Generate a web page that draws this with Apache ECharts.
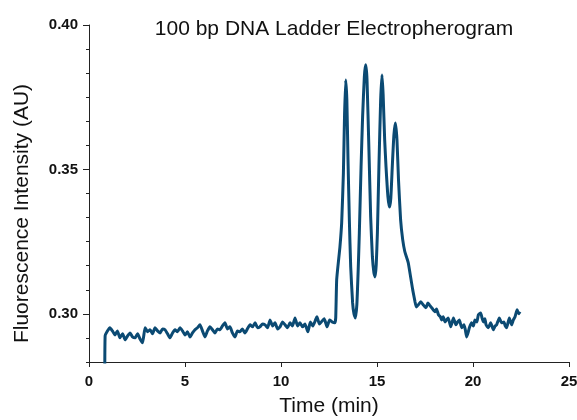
<!DOCTYPE html>
<html lang="en">
<head>
    <meta charset="UTF-8">
    <title>electropherogram</title>
    <script src="https://cdn.jsdelivr.net/npm/echarts@6/dist/echarts.min.js"></script>
    <style>
        html, body { margin: 0; padding: 0; background: #fff; }
    </style>
</head>
<body>
    <div id="main" style="width: 577px; height: 420px"></div>
<script>
    // time (min) and fluorescence (AU)
    const time = [
        0.82, 0.84, 1.09, 1.22, 1.35, 1.48, 1.61, 1.75, 1.88, 2.01, 2.14, 2.27, 2.40, 2.53, 2.66, 2.79, 2.92,
        3.05, 3.18, 3.31, 3.44, 3.57, 3.70, 3.83, 3.96, 4.09, 4.22, 4.35, 4.48, 4.61, 4.74, 4.87, 5.00,
        5.13, 5.26, 5.39, 5.52, 5.65, 5.78, 5.91, 6.04, 6.17, 6.30, 6.43, 6.56, 6.69, 6.82, 6.95, 7.08,
        7.21, 7.34, 7.47, 7.60, 7.73, 7.86, 7.99, 8.12, 8.25, 8.39, 8.52, 8.65, 8.78, 8.90, 9.04, 9.17,
        9.30, 9.43, 9.56, 9.69, 9.82, 9.95, 10.08, 10.21, 10.34, 10.47, 10.60, 10.73, 10.86, 10.99, 11.12,
        11.25, 11.40, 11.53, 11.66, 11.80, 11.87, 12.00, 12.10, 12.25, 12.40, 12.53, 12.66, 12.80, 12.85,
        12.90, 13.00, 13.07, 13.16, 13.25, 13.31, 13.37, 13.43, 13.49, 13.56, 13.63, 13.73, 13.80, 13.87,
        13.95, 14.02, 14.08, 14.17, 14.25, 14.34, 14.41, 14.48, 14.58, 14.67, 14.76, 14.84, 14.90, 14.96,
        15.02, 15.10, 15.19, 15.26, 15.32, 15.40, 15.47, 15.57, 15.65, 15.72, 15.80, 15.88, 15.96, 16.04,
        16.12, 16.23, 16.34, 16.45, 16.55, 16.63, 16.75, 16.86, 16.98, 17.05, 17.15, 17.28, 17.41, 17.55,
        17.65, 17.73, 17.85, 18.02, 18.10, 18.20, 18.30, 18.37, 18.45, 18.54, 18.62, 18.71, 18.84, 18.98,
        19.11, 19.20, 19.29, 19.41, 19.53, 19.60, 19.67, 19.74, 19.81, 19.93, 20.02, 20.10, 20.20, 20.28,
        20.40, 20.47, 20.54, 20.62, 20.68, 20.80, 20.92, 21.06, 21.15, 21.23, 21.37, 21.49, 21.61, 21.68,
        21.75, 21.89, 22.01, 22.10, 22.19, 22.30, 22.38, 22.45
    ]
    const intensity = [
        0.2700, 0.2924, 0.2952, 0.2941, 0.2927, 0.2941, 0.2917, 0.2931, 0.2910, 0.2924, 0.2934, 0.2920, 0.2917, 0.2931, 0.2913, 0.2900, 0.2952,
        0.2938, 0.2945, 0.2931, 0.2952, 0.2941, 0.2934, 0.2948, 0.2945, 0.2931, 0.2917, 0.2934, 0.2945, 0.2938, 0.2952, 0.2941, 0.2927,
        0.2938, 0.2920, 0.2934, 0.2945, 0.2952, 0.2962, 0.2941, 0.2920, 0.2941, 0.2955, 0.2945, 0.2934, 0.2948, 0.2945, 0.2958, 0.2969,
        0.2948, 0.2955, 0.2934, 0.2920, 0.2941, 0.2938, 0.2948, 0.2934, 0.2948, 0.2962, 0.2955, 0.2969, 0.2952, 0.2955, 0.2965, 0.2962,
        0.2952, 0.2979, 0.2958, 0.2969, 0.2948, 0.2955, 0.2972, 0.2962, 0.2952, 0.2969, 0.2958, 0.2986, 0.2958, 0.2969, 0.2955,
        0.2965, 0.2938, 0.2972, 0.2958, 0.2979, 0.2990, 0.2965, 0.2972, 0.2983, 0.2955, 0.2979, 0.2972, 0.2969, 0.2986,
        0.3118, 0.3187, 0.3232, 0.3315, 0.3488, 0.3689, 0.3810, 0.3740, 0.3533, 0.3325, 0.3163, 0.3038, 0.3000, 0.2986,
        0.3031, 0.3152, 0.3280, 0.3509, 0.3682, 0.3820, 0.3862, 0.3810, 0.3567, 0.3336, 0.3197, 0.3142, 0.3128, 0.3170,
        0.3280, 0.3509, 0.3740, 0.3827, 0.3758, 0.3602, 0.3509, 0.3405, 0.3370, 0.3401, 0.3516, 0.3619, 0.3661, 0.3602,
        0.3464, 0.3325, 0.3256, 0.3215, 0.3194, 0.3176, 0.3128, 0.3083, 0.3042, 0.3024, 0.3031, 0.3042, 0.3031, 0.3021,
        0.3038, 0.3031, 0.3021, 0.3007, 0.3017, 0.2997, 0.2990, 0.2979, 0.2990, 0.2972, 0.2979, 0.2986, 0.2955, 0.2986,
        0.2962, 0.2972, 0.2979, 0.2952, 0.2962, 0.2945, 0.2920, 0.2934, 0.2952, 0.2969, 0.2958, 0.2979, 0.2972, 0.2997,
        0.3003, 0.2986, 0.2972, 0.2983, 0.2962, 0.2952, 0.2969, 0.2945, 0.2958, 0.2962, 0.2986, 0.2969, 0.2972, 0.2958,
        0.2952, 0.2986, 0.2962, 0.2979, 0.2990, 0.3014, 0.3000, 0.3007
    ]
    const yMajor = [0.30, 0.35, 0.40]
    const xTicks = [0, 5, 10, 15, 20, 25]

    const font = "'Liberation Sans', Arial, sans-serif"
    const yStep = 0.05 / 6
    const yMin = 34 * yStep   // 0.28333
    const lineColor = '#0b4a73'

    let option = {
        backgroundColor: '#ffffff',
        animation: false,
        title: {
            text: '100 bp DNA Ladder Electropherogram',
            left: 329,
            top: 14,
            textAlign: 'center',
            textStyle: { fontFamily: font, fontSize: 21, fontWeight: 'normal', color: '#111' }
        },
        grid: { left: 89, right: 8, top: 25, bottom: 58, containLabel: false, outerBoundsMode: 'none' },
        xAxis: {
            type: 'value',
            min: xTicks[0],
            max: xTicks[xTicks.length - 1],
            interval: 5,
            name: 'Time (min)',
            nameLocation: 'middle',
            nameGap: 34,
            nameTextStyle: { fontFamily: font, fontSize: 21, color: '#111' },
            axisLine: { lineStyle: { color: '#222', width: 1 } },
            axisTick: { length: 5, lineStyle: { color: '#222' } },
            axisLabel: { fontFamily: font, fontSize: 15, fontWeight: 'bold', color: '#111', margin: 12 },
            splitLine: { show: false }
        },
        yAxis: [{
            type: 'value',
            min: yMin,
            max: 0.40,
            interval: yStep,
            name: 'Fluorescence Intensity (AU)',
            nameLocation: 'middle',
            nameGap: 56,
            nameTextStyle: { fontFamily: font, fontSize: 21, color: '#111', padding: [0, 40, 0, 0] },
            axisLine: { show: true, lineStyle: { color: '#222', width: 1 } },
            axisTick: { length: 3, lineStyle: { color: '#222' } },
            axisLabel: {
                fontFamily: font, fontSize: 15, fontWeight: 'bold', color: '#111', margin: 11,
                formatter: v => yMajor.some(m => Math.abs(m - v) < 1e-6) ? v.toFixed(2) : ''
            },
            splitLine: { show: false }
        }, {
            type: 'value',
            position: 'left',
            min: yMin,
            max: 0.40,
            axisLine: { show: false },
            axisTick: { show: true, length: 6, customValues: yMajor, lineStyle: { color: '#222' } },
            axisLabel: { show: false },
            splitLine: { show: false }
        }],
        series: [{
            type: 'line',
            yAxisIndex: 0,
            data: time.map((t, i) => [t, intensity[i]]),
            showSymbol: false,
            smooth: 0.15,
            clip: true,
            lineStyle: { color: lineColor, width: 3 }
        }]
    }

    var myChart = echarts.init(document.getElementById('main'))
    myChart.setOption(option)
</script>
</body>
</html>
